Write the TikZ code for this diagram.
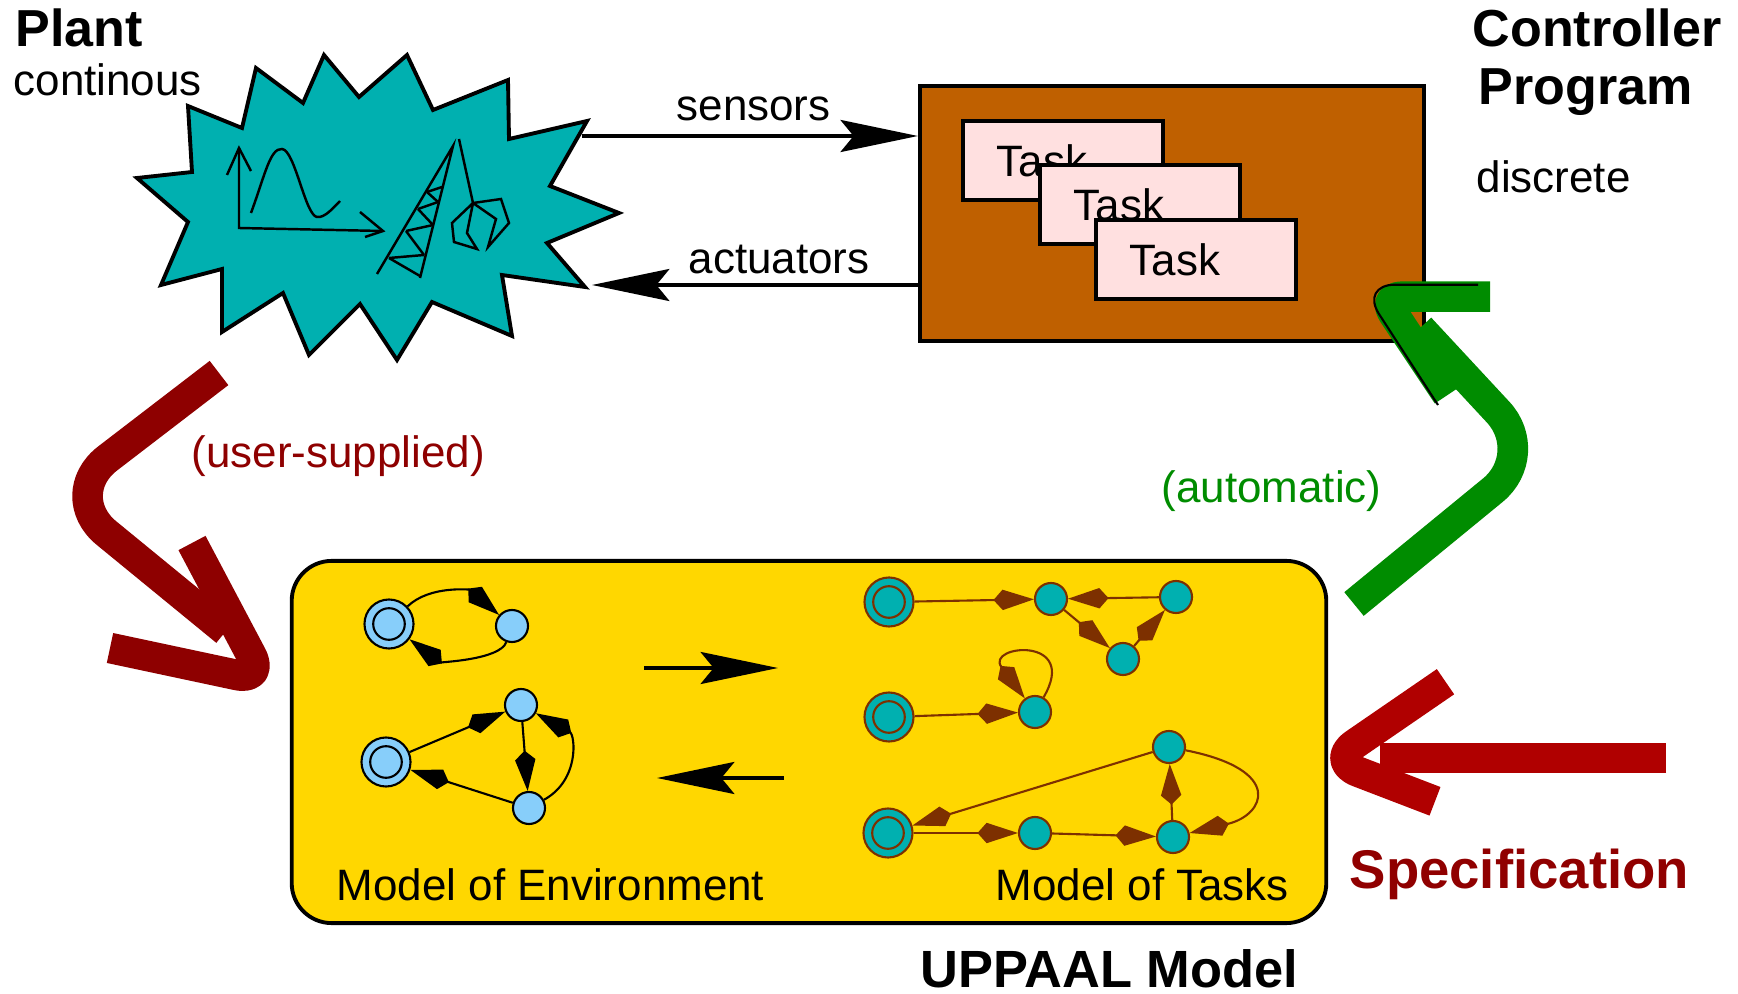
\documentclass[tikz,border=0pt]{standalone}
\usepackage{fontspec}
\setmainfont{Liberation Sans}
\usetikzlibrary{arrows.meta}

\definecolor{plantteal}{RGB}{0,176,176}
\definecolor{ctrlbrown}{RGB}{191,96,0}
\definecolor{taskpink}{RGB}{255,224,224}
\definecolor{modelyellow}{RGB}{255,215,0}
\definecolor{envblue}{RGB}{135,206,250}
\definecolor{edgebrown}{RGB}{125,48,0}
\definecolor{userred}{RGB}{142,0,0}
\definecolor{specred}{RGB}{176,0,0}
\definecolor{spectext}{RGB}{144,0,0}
\definecolor{autogreen}{RGB}{0,140,0}

\tikzset{
  txt/.style={inner sep=0pt,anchor=base west,font=\fontsize{12.5}{15}\selectfont},
  headtxt/.style={inner sep=0pt,anchor=base west,font=\fontsize{14.8}{17}\selectfont\bfseries},
  taskbox/.style={draw,line width=1.1pt,fill=taskpink,anchor=north west,minimum width=2cm,
    minimum height=0.79cm,text width=1.32cm,inner xsep=0.34cm,inner ysep=0pt,
    font=\fontsize{12.5}{15}\selectfont},
  loc/.style={circle,line width=0.6pt,inner sep=0pt,minimum size=0.32cm},
  envloc/.style={loc,draw=black,fill=envblue},
  taskloc/.style={loc,draw=edgebrown,fill=plantteal},
  initloc/.style={minimum size=0.49cm,path picture={
    \draw[line width=0.6pt,#1] (path picture bounding box.center) circle (0.158cm);}},
  envedge/.style={line width=0.6pt,-{Kite[length=11.5pt,width=5.8pt,inset=2.6pt]}},
  taskedge/.style={envedge,draw=edgebrown},
  sig/.style={line width=1.1pt,-{Stealth[length=22pt,width=9.1pt,inset=3.7pt]}},
  flow/.style={line width=8.7pt,line cap=butt,line join=round}
}

\begin{document}
\begin{tikzpicture}[x=0.01cm,y=0.01cm,line join=miter]
\useasboundingbox (0,0) rectangle (1738,-994);

% plant
\draw[line width=1.1pt,fill=plantteal] (256,-68) -- (303,-103) -- (324,-55) -- (359,-97)
  -- (407,-55) -- (433,-110) -- (508,-80) -- (509,-139) -- (587,-121) -- (550,-186)
  -- (619,-213) -- (547,-243) -- (585,-287) -- (502,-275) -- (512,-336) -- (432,-302)
  -- (397,-360) -- (360,-304) -- (309,-355) -- (283,-293) -- (222,-332) -- (222,-269)
  -- (161,-285) -- (188,-222) -- (137,-178) -- (192,-172) -- (188,-106) -- (242,-128) -- cycle;

\begin{scope}[line width=0.7pt]
\draw (239,-148) -- (239,-228) -- (383,-231);
\draw (227,-175) -- (239,-148) -- (251,-171);
\draw (360,-212) -- (383,-231) -- (365,-237);
\draw (251,-213) .. controls (265,-175) and (270,-148) .. (282,-149)
  .. controls (295,-150) and (305,-215) .. (317,-217)
  .. controls (325,-218) and (333,-208) .. (340,-201);
\draw (377,-274) -- (453,-146) -- (420,-278);
\foreach \p/\q in {{389,-258}/{424,-255},{389,-258}/{420,-276},{406,-231}/{433,-225},
  {406,-231}/{424,-255},{418,-209}/{438,-202},{418,-209}/{433,-225},
  {427,-192}/{442,-187},{427,-192}/{438,-202}}{
\draw (\p) -- (\q);}
\draw (459,-139) -- (473,-203) -- (501,-199) -- (509,-223) -- (488,-247) -- (496,-219) -- (473,-203);
\draw (473,-203) -- (452,-223) -- (454,-242) -- (477,-249) -- (467,-233) -- (473,-203);
\end{scope}

\node[headtxt] (plant) at (15,-47) {Plant};
\node[txt] (cont) at (13,-96) {continous};

% controller
\node[draw,line width=1.1pt,fill=ctrlbrown,minimum width=5.04cm,minimum height=2.55cm] (ctrl) at (1172,-213.5) {};
\node[taskbox] (task1) at (961,-119) {Task};
\node[taskbox] (task2) at (1038,-163) {Task};
\node[taskbox] (task3) at (1094,-218) {Task};

\node[headtxt] (ctrlhead) at (1472,-47) {Controller};
\node[headtxt] (proghead) at (1478,-105) {Program};
\node[txt] (disc) at (1476,-193) {discrete};

\coordinate (sens) at (582,-136);
\coordinate (act) at (592,-285);
\draw[sig] (sens) -- (sens -| ctrl.west);
\draw[sig] (act -| ctrl.west) -- (act);
\node[txt] (senslbl) at (676,-121) {sensors};
\node[txt] (actlbl) at (688,-274) {actuators};

% model
\node[draw,line width=1.1pt,fill=modelyellow,rounded corners=0.4cm,minimum width=10.34cm,minimum height=3.62cm] (model) at (809,-742) {};

\node[envloc,initloc=black] (e1i) at (389,-624) {};
\node[envloc] (e1b) at (512,-626) {};
\node[envloc,initloc=black] (e2i) at (386,-762) {};
\node[envloc] (e2c) at (521,-705) {};
\node[envloc] (e2d) at (529,-808) {};

\draw[envedge] (e1i) .. controls (430,-585) and (470,-590) .. (e1b);
\draw[envedge] (e1b) .. controls (500,-660) and (440,-662) .. (e1i);
\draw[envedge] (e2i) -- (e2c);
\draw[envedge] (e2c) -- (e2d);
\draw[envedge] (e2d) .. controls (580,-780) and (575,-735) .. (e2c);
\draw[envedge] (e2d) -- (e2i);

\node[taskloc,initloc=edgebrown] (t1i) at (889,-602) {};
\node[taskloc] (t1a) at (1051,-599) {};
\node[taskloc] (t1b) at (1123,-659) {};
\node[taskloc] (t1c) at (1176,-597) {};
\node[taskloc,initloc=edgebrown] (t2i) at (889,-717) {};
\node[taskloc] (t2a) at (1035,-712) {};
\node[taskloc,initloc=edgebrown] (t3i) at (888,-833) {};
\node[taskloc] (t3a) at (1035,-833) {};
\node[taskloc] (t3b) at (1173,-837) {};
\node[taskloc] (t3c) at (1169,-747) {};

\draw[taskedge] (t1i) -- (t1a);
\draw[taskedge] (t1c) -- (t1a);
\draw[taskedge] (t1a) -- (t1b);
\draw[taskedge] (t1b) -- (t1c);
\draw[taskedge] (t2i) -- (t2a);
\draw[taskedge] (t2a) .. controls (1080,-635) and (985,-645) .. (t2a);
\draw[taskedge] (t3i) -- (t3a);
\draw[taskedge] (t3a) -- (t3b);
\draw[taskedge] (t3b) -- (t3c);
\draw[taskedge] (t3c) -- (t3i);
\draw[taskedge] (t3c) .. controls (1285,-770) and (1265,-815) .. (t3b);

\coordinate (toa) at (644,-668);
\coordinate (tob) at (778,-668);
\coordinate (fra) at (784,-778);
\coordinate (frb) at (657,-778);
\draw[sig] (toa) -- (tob);
\draw[sig] (fra) -- (frb);

\node[txt] (envlbl) at (336,-900) {Model of Environment};
\node[txt] (tasklbl) at (995,-900) {Model of Tasks};
\node[headtxt,font=\fontsize{14.9}{17}\selectfont\bfseries] (modelhead) at (920,-987) {UPPAAL Model};

% big arrows
\draw[flow,draw=userred,rounded corners=0.6cm] (219,-373) -- (60,-495) -- (226,-631);
\draw[flow,draw=userred,rounded corners=0.29cm] (192,-543) -- (265,-681) -- (110,-648);
\node[txt,text=userred] (userlbl) at (191,-468) {(user-supplied)};

\draw[flow,draw=autogreen,rounded corners=0.57cm] (1354,-604) -- (1537,-454) -- (1420,-328);
\draw[flow,draw=autogreen,rounded corners=0.2cm] (1490,-296.7) -- (1382,-296.7) -- (1447.5,-395);
\draw[line width=0.6pt,rounded corners=0.35cm] (1478,-284.7) -- (1360,-284.7) -- (1438,-405);
\node[txt,text=autogreen] (autolbl) at (1161,-503) {(automatic)};

\draw[flow,draw=specred] (1666,-758) -- (1380,-758);
\draw[flow,draw=specred,rounded corners=0.3cm] (1445.5,-681.7) -- (1330,-761) -- (1435,-801.3);
\node[headtxt,text=spectext,font=\fontsize{15.5}{18}\selectfont\bfseries] (spec) at (1349,-889) {Specification};

\end{tikzpicture}
\end{document}
